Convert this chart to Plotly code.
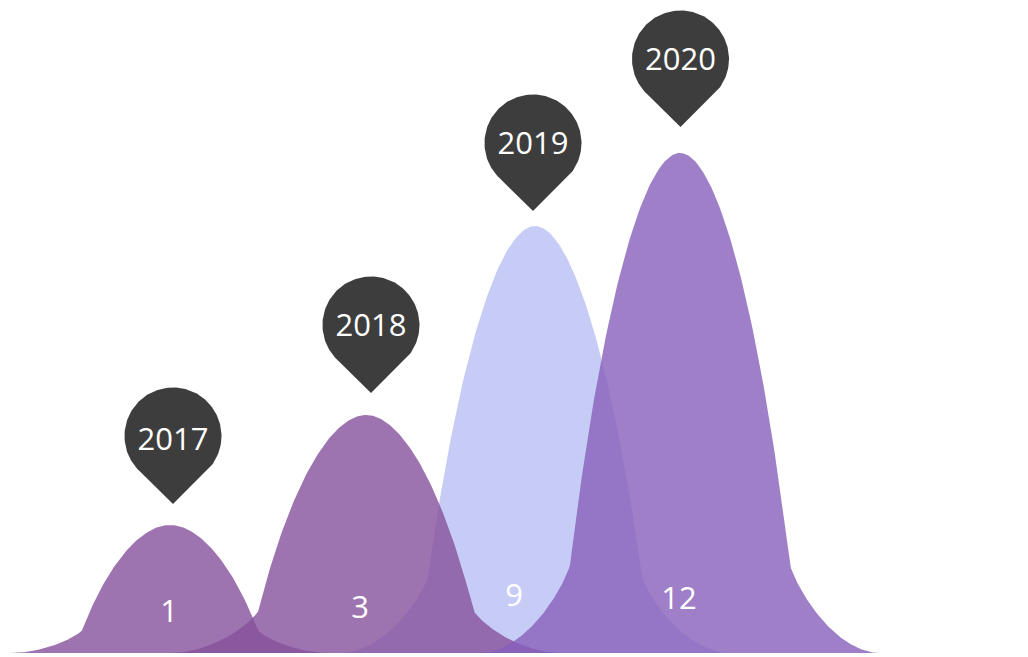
import numpy as np
import plotly.graph_objects as go

# --- data ---
years = ["2017", "2018", "2019", "2020"]
counts = ["1", "3", "9", "12"]
peak_heights = [128, 238, 427, 500]

# --- layout of the marks (pixel-scale axes) ---
centers = [170, 366, 535, 680]
half_widths = [160, 196, 195, 200]
pin_x = [173, 371, 533, 680.5]
pin_gap = [149, 260, 442, 526]
year_y = [211, 325, 507, 591]
label_x = [169, 360, 514, 679]
label_y = [39, 43, 55, 52]
fills = ["rgba(134,81,156,0.8)", "rgba(134,81,156,0.8)",
         "rgba(185,191,244,0.8)", "rgba(135,95,186,0.8)"]
draw_order = [2, 1, 0, 3]
PIN_R, PIN_TIP = 48.5, 68
FONT = "Open Sans"
FONT_SIZE = 31
W, H, BASE = 1028, 657, 653
PAGE_MARGIN = 8


def bez(p0, p1, p2, p3, n=80):
    t = np.linspace(0, 1, n)[:, None]
    p0, p1, p2, p3 = map(np.array, (p0, p1, p2, p3))
    return (1 - t) ** 3 * p0 + 3 * (1 - t) ** 2 * t * p1 + 3 * (1 - t) * t ** 2 * p2 + t ** 3 * p3


# Normalised half-profile of the "mountain" symbol, apex to foot
upper = bez((0, 1), (0.18, 1), (0.39, 0.70), (0.55, 0.175))
lower = bez((0.55, 0.175), (0.61, 0.105), (0.80, 0.0), (1, 0))
half = np.vstack([upper, lower[1:]])

fig = go.Figure()
for i in draw_order:
    c, hw, h, col = centers[i], half_widths[i], peak_heights[i], fills[i]
    xs = np.concatenate([c - half[::-1, 0] * hw, c + half[1:, 0] * hw])
    ys = np.concatenate([half[::-1, 1] * h, half[1:, 1] * h])
    fig.add_trace(go.Scatter(x=xs, y=ys, mode="lines", fill="toself", fillcolor=col,
                             line=dict(width=0), hoverinfo="skip", showlegend=False))

# Pins
ang0 = np.arccos(PIN_R / PIN_TIP)
theta = np.linspace(-np.pi / 2 + ang0, 3 * np.pi / 2 - ang0, 120)
for px, g in zip(pin_x, pin_gap):
    # g: height of the pin's tip above the base
    cy = g + PIN_TIP
    xs = np.concatenate([[px], px + PIN_R * np.cos(theta), [px]])
    ys = np.concatenate([[g], cy + PIN_R * np.sin(theta), [g]])
    fig.add_trace(go.Scatter(x=xs, y=ys, mode="lines", fill="toself", fillcolor="#3d3d3d",
                             line=dict(width=0), hoverinfo="skip", showlegend=False))

fig.add_trace(go.Scatter(x=pin_x, y=year_y, mode="text", text=years, textposition="middle center",
                         textfont=dict(family=FONT, size=FONT_SIZE, color="#ffffff"),
                         hoverinfo="skip", showlegend=False))
fig.add_trace(go.Scatter(x=label_x, y=label_y, mode="text", text=counts,
                         textposition="middle center",
                         textfont=dict(family=FONT, size=FONT_SIZE, color="#ffffff"),
                         hoverinfo="skip", showlegend=False))

fig.update_layout(width=W, height=H, margin=dict(l=0, r=0, t=0, b=0),
                  paper_bgcolor="white", plot_bgcolor="white",
                  xaxis=dict(range=[PAGE_MARGIN, W + PAGE_MARGIN], visible=False, fixedrange=True),
                  yaxis=dict(range=[BASE - PAGE_MARGIN - H, BASE - PAGE_MARGIN], visible=False, fixedrange=True))
fig.write_html("out.html", config={"displayModeBar": False})
